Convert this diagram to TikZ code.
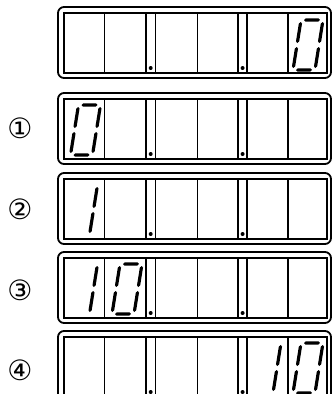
\documentclass[tikz,border=0pt]{standalone}
\usepackage{fontspec}
\newfontfamily\circfont{DejaVu Sans}
\tikzset{
  frame/.style={line width=1.8pt, rounded corners=6pt},
  window/.style={line width=1.8pt},
  divider/.style={line width=1.8pt},
  numlabel/.style={font=\circfont\fontsize{28}{28}\selectfont, anchor=center, inner sep=0pt}
}
% segments of the seven segment digits
\newcommand{\hseg}[3]{\fill (#1,#3) -- ({#1+1.6},{#3+1.6}) -- ({#2-1.6},{#3+1.6}) -- (#2,#3) -- ({#2-1.6},{#3-1.6}) -- ({#1+1.6},{#3-1.6}) -- cycle;}
\newcommand{\vseg}[3]{\fill (#1,#2) -- ({#1+1.6},{#2+1.6}) -- ({#1+1.6},{#3-1.6}) -- (#1,#3) -- ({#1-1.6},{#3-1.6}) -- ({#1-1.6},{#2+1.6}) -- cycle;}
\newcommand{\digitzero}[2]{%
  \begin{scope}[shift={(#1,#2)}, y=1pt, xslant=.16]
    \hseg{3}{19}{50} \vseg{22}{27}{48} \vseg{22}{2}{23}
    \hseg{3}{19}{0} \vseg{0}{2}{23} \vseg{0}{27}{48}
  \end{scope}}
\newcommand{\digitone}[2]{%
  \begin{scope}[shift={(#1,#2)}, y=1pt, xslant=.16]
    \vseg{19}{27}{48} \vseg{19}{2}{23}
  \end{scope}}
\begin{document}
\begin{tikzpicture}[x=1pt, y=-1pt]
  \useasboundingbox (0,0) rectangle (332,394);
  \clip (0,0) rectangle (332,394);
  % five displays
  \foreach \t in {7,93,173,252,331} {
    \draw[frame] (58,\t) rectangle (331,{\t+71});
    \draw[window] (64,{\t+6}) rectangle (327,{\t+66});
    \foreach \x in {104.5,146,155.5,197.5,238,247,288}
      \draw[divider] (\x,{\t+6}) -- (\x,{\t+66});
    \fill (150.7,{\t+61}) circle (2);
    \fill (242.6,{\t+61}) circle (2);
  }
  % digits
  \digitzero{293}{70}
  \digitzero{70.5}{155}
  \digitone{70.5}{235}
  \digitone{70.5}{314}
  \digitzero{112}{314}
  \digitone{254}{393}
  \digitzero{293}{393}
  % step labels
  \node[numlabel] (step1) at (20,128) {①};
  \node[numlabel] (step2) at (20,209) {②};
  \node[numlabel] (step3) at (20,290) {③};
  \node[numlabel] (step4) at (20,370) {④};
\end{tikzpicture}
\end{document}
